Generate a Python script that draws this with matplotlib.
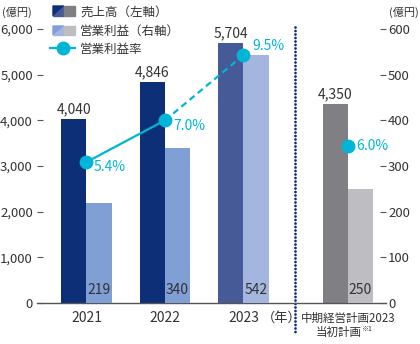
import numpy as np
import matplotlib.pyplot as plt
from matplotlib.patches import Polygon
from matplotlib.lines import Line2D

plt.rcParams['font.family'] = ['Noto Sans CJK JP', 'DejaVu Sans']

# data
years = ['2021', '2022', '2023']
sales = [4040, 4846, 5704, 4350]          # 売上高 (left axis)
profit = [219, 340, 542, 250]             # 営業利益 (right axis)
margin = [5.4, 7.0, 9.5, 6.0]             # 営業利益率 (%)
sales_text = ['4,040', '4,846', '5,704', '4,350']
left_ticks = [0, 1000, 2000, 3000, 4000, 5000, 6000]
right_ticks = [0, 100, 200, 300, 400, 500, 600]

sales_col = ['#0c2f78', '#0c2f78', '#465a97', '#7f7f84']
profit_col = ['#7f9fd5', '#7f9fd5', '#a4b6de', '#bebec2']
cyan = '#00b5d6'
txt = '#333333'
W, H = 420, 344

xpos = np.array([0, 1, 2, 3.33])
w = 0.32

fig = plt.figure(figsize=(4.2, 3.44), dpi=100)
ax = fig.add_axes([37 / W, 41 / H, 349 / W, 274 / H])
ax2 = ax.twinx()
ax3 = ax.twinx()

ax.bar(xpos - w / 2, sales, w, color=sales_col)
ax2.bar(xpos + w / 2, profit, w, color=profit_col)

ax.set_xlim(-0.63, 3.815)
ax.set_ylim(0, 6000)
ax2.set_ylim(0, 600)
ax3.set_ylim(0, 10.5)

ax.set_yticks(left_ticks, [f'{v:,}' for v in left_ticks])
ax2.set_yticks(right_ticks, [str(v) for v in right_ticks])
ax.tick_params(axis='y', direction='in', length=4, pad=3, color='#555',
               labelcolor=txt, labelsize=9.5)
ax2.tick_params(axis='y', direction='in', length=4, pad=1.5, color='#555',
                labelcolor=txt, labelsize=9.5)
ax3.set_yticks([])
ax.set_xticks(xpos[:3], years)
ax.tick_params(axis='x', length=0, pad=6, labelsize=10, labelcolor=txt)

for a in (ax, ax2, ax3):
    for s in a.spines.values():
        s.set_visible(False)
ax.spines['bottom'].set_visible(True)
ax.spines['bottom'].set_color('#555')
ax.spines['bottom'].set_linewidth(1)

# value labels
for x, s, t in zip(xpos, sales, sales_text):
    ax.annotate(t, (x - w / 2, s), xytext=(0, 4), textcoords='offset points',
                ha='center', va='baseline', fontsize=10, color=txt)
for x, p in zip(xpos, profit):
    ax2.annotate(str(p), (x + w / 2, 0), xytext=(0, 6.5), textcoords='offset points',
                 ha='center', va='baseline', fontsize=10, color=txt)

# margin line
ax3.plot(xpos[:2], margin[:2], '-', color=cyan, lw=1.6)
ax3.plot(xpos[1:3], margin[1:3], '--', color=cyan, lw=1.6, dashes=(2.9, 1.9))
ax3.plot(xpos, margin, 'o', color=cyan, ms=9, ls='none')
offs = [(5, -3.6), (5.8, -4.3), (6.5, 6.5), (5.8, 0)]
for x, m, o in zip(xpos, margin, offs):
    ax3.annotate(f'{m:.1f}%', (x, m), xytext=o, textcoords='offset points',
                 ha='left', va='center', fontsize=10, color=cyan)

# separator
xt = ax.get_xaxis_transform()
ax.plot([2.656, 2.656], [1.007, -0.117], transform=xt, clip_on=False,
        color='#0c2f78', lw=2, ls=(0, (0.01, 1.25)), dash_capstyle='round')

# category labels under the axis
ax.text(2.24, -0.055, '（年）', transform=xt, ha='left', va='center',
        fontsize=9.5, color=txt)
ax.text(xpos[3], -0.055, '中期経営計画2023', transform=xt, ha='center',
        va='center', fontsize=8.3, color=txt)
ax.text(xpos[3] + 0.17, -0.108, '当初計画', transform=xt, ha='right',
        va='center', fontsize=8.3, color=txt)
ax.text(xpos[3] + 0.17, -0.095, '※1', transform=xt, ha='left',
        va='center', fontsize=5, color=txt)

# units
fig.text(2 / W, 1 - 12 / H, '(億円)', ha='left', va='center', fontsize=8, color=txt)
fig.text(419 / W, 1 - 12 / H, '(億円)', ha='right', va='center', fontsize=8, color=txt)


# legend drawn by hand
def px(x, y):
    return (x / W, 1 - y / H)


def swatch(y0, y1, c_dark, c_light, c_grey):
    fig.add_artist(Polygon([px(53, y0), px(64, y0), px(53, y1)], closed=True,
                           color=c_dark, transform=fig.transFigure))
    fig.add_artist(Polygon([px(64, y0), px(64, y1), px(53, y1)], closed=True,
                           color=c_light, transform=fig.transFigure))
    fig.add_artist(Polygon([px(64, y0), px(75, y0), px(75, y1), px(64, y1)],
                           closed=True, color=c_grey, transform=fig.transFigure))


swatch(6, 16, sales_col[0], sales_col[2], sales_col[3])
swatch(26, 35, profit_col[0], profit_col[2], profit_col[3])
fig.add_artist(Line2D([50 / W, 75 / W], [1 - 48 / H] * 2, color=cyan, lw=1.6,
                      transform=fig.transFigure))
fig.add_artist(Line2D([63 / W], [1 - 48 / H], marker='o', ms=9, color=cyan,
                      transform=fig.transFigure))
for y, t in [(12, '売上高（左軸）'), (31, '営業利益（右軸）'), (49, '営業利益率')]:
    fig.text(80 / W, 1 - y / H, t, ha='left', va='center', fontsize=9, color=txt)

fig.savefig('out.png', dpi=100)
